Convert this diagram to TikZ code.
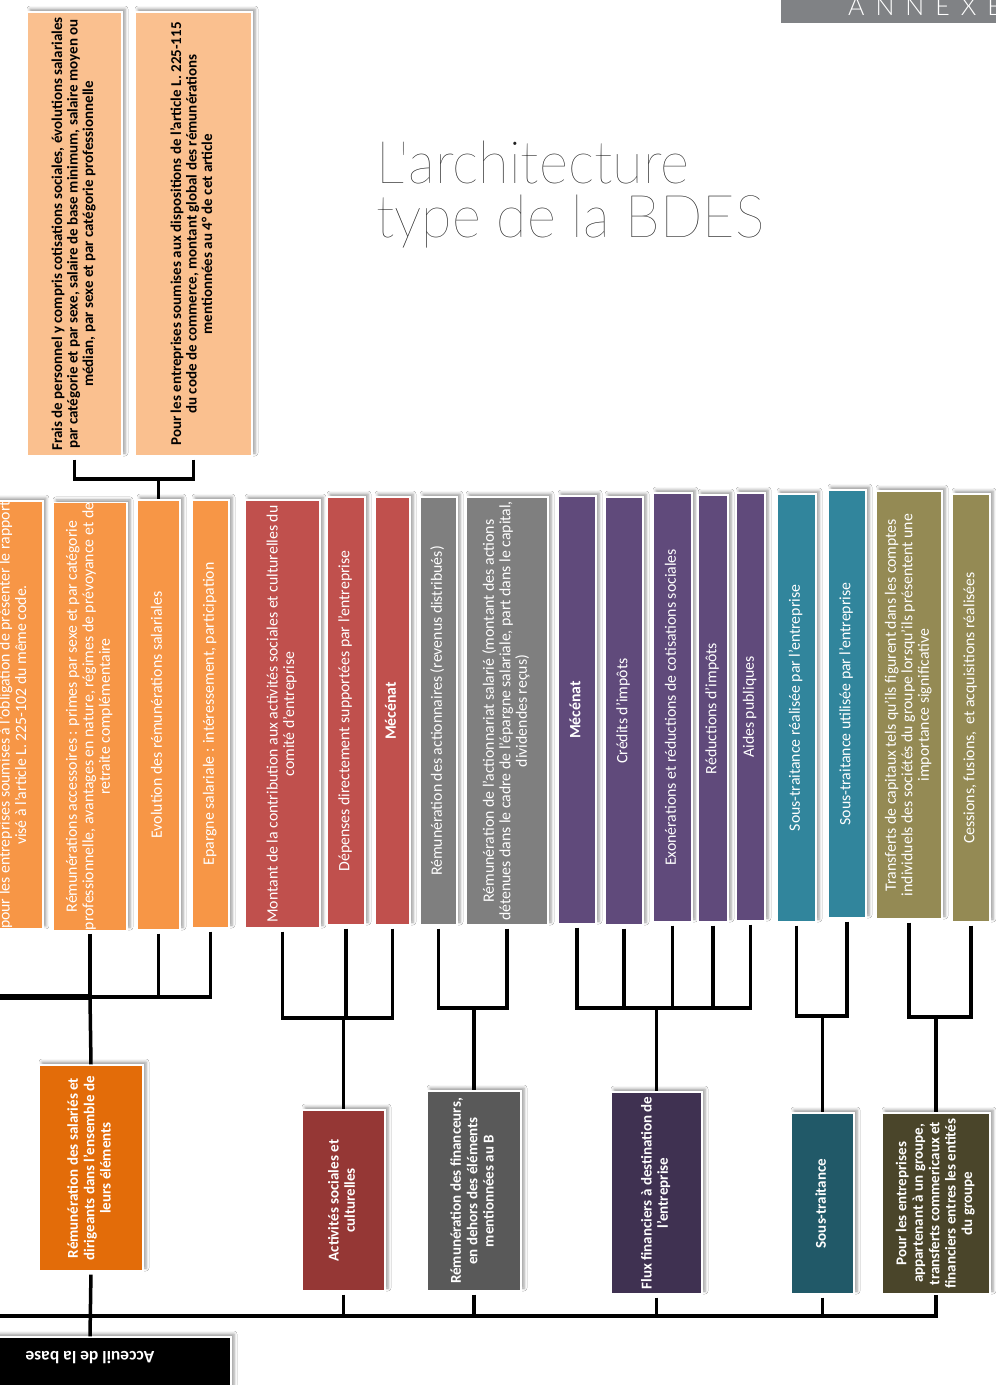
\documentclass[tikz,border=0pt]{standalone}
\usepackage{fontspec}
\setmainfont{Carlito}
\newfontfamily\titlefont{Lato Hairline}
\newfontfamily\bannerfont{Lato Light}
\usetikzlibrary{shadows.blur}
\definecolor{cTop}{HTML}{FAC08F}
\definecolor{cOr}{HTML}{F79646}
\definecolor{cRed}{HTML}{C0504D}
\definecolor{cGry}{HTML}{7F7F7F}
\definecolor{cPur}{HTML}{604A7B}
\definecolor{cTea}{HTML}{31859C}
\definecolor{cOli}{HTML}{948A54}
\definecolor{dOr}{HTML}{E36C09}
\definecolor{dRed}{HTML}{953735}
\definecolor{dGry}{HTML}{595959}
\definecolor{dPur}{HTML}{3F3151}
\definecolor{dTea}{HTML}{215968}
\definecolor{dOli}{HTML}{4A452A}
\definecolor{banner}{HTML}{808285}
\definecolor{titlegrey}{HTML}{202020}
\newcommand\vt[1]{\rotatebox{90}{\begin{tabular}{@{}c@{}}#1\end{tabular}}}
\tikzset{
  box/.style={draw=white, line width=1.2pt, inner sep=0pt, text=white,
    font=\fontsize{15.8}{16.5}\selectfont,
    blur shadow={shadow xshift=3pt, shadow yshift=3pt, shadow blur radius=3pt, shadow opacity=40}},
  topbox/.style={box, fill=cTop, text=black, font=\bfseries\fontsize{15}{15.5}\selectfont},
  lowbox/.style={box, font=\bfseries\fontsize{15}{16.4}\selectfont},
  conn/.style={line width=3.5pt, black},
  gap/.style={conn, shorten <=3pt}
}
\begin{document}
\begin{tikzpicture}[x=1pt,y=-1pt]
\useasboundingbox (0,0) rectangle (996,1385);
\clip (0,0) rectangle (996,1385);
\fill[white] (0,0) rectangle (996,1385);

% banner and title
\fill[banner] (781,-5) rectangle (996,23);
\node[anchor=base west, text=white, inner sep=0pt, font=\bannerfont\fontsize{25}{25}\selectfont] (annexe) at (848,15) {A\hspace{11pt}N\hspace{11pt}N\hspace{11pt}E\hspace{11pt}X\hspace{11pt}E};
\node[anchor=base west, inner sep=0pt, text=titlegrey, font=\titlefont\fontsize{59}{60}\selectfont] (title1) at (376,183) {\scalebox{0.95}[1]{L'architecture}};
\node[anchor=base west, inner sep=0pt, text=titlegrey, font=\titlefont\fontsize{59}{60}\selectfont] (title2) at (376,237) {\scalebox{0.945}[1]{type de la BDES}};

% top boxes
\node[topbox, minimum width=95pt, minimum height=444pt] (t1) at (74.5,234) {\vt{Frais de personnel y compris cotisations sociales, évolutions salariales\\par catégorie et par sexe, salaire de base minimum, salaire moyen ou\\médian, par sexe et par catégorie professionnelle}};
\node[topbox, minimum width=117pt, minimum height=444pt] (t2) at (193.5,234) {\vt{Pour les entreprises soumises aux dispositions de l'article L. 225-115\\du code de commerce, montant global des rémunérations\\mentionnées au 4° de cet article}};

% middle boxes
\node[box, fill=cOr, minimum width=57pt, minimum height=424pt] (m1) at (14.5,715) {\vt{pour les entreprises soumises à l'obligation de présenter le rapport\\visé à l'article L. 225-102 du même code.}};
\node[box, fill=cOr, minimum width=74pt, minimum height=427pt] (m2) at (90,716.5) {\vt{Rémunérations accessoires : primes par sexe et par catégorie\\professionnelle, avantages en nature, régimes de prévoyance et de\\retraite complémentaire}};
\node[box, fill=cOr, minimum width=43pt, minimum height=430pt] (m3) at (158.5,715) {\vt{Evolution des rémunérations salariales}};
\node[box, fill=cOr, minimum width=37pt, minimum height=428pt] (m4) at (210.5,714) {\vt{Epargne salariale : intéressement, participation}};
\node[box, fill=cRed, minimum width=75pt, minimum height=428pt] (m5) at (282.5,714) {\vt{Montant de la contribution aux activités sociales et culturelles du\\comité d'entreprise}};
\node[box, fill=cRed, minimum width=38pt, minimum height=428pt] (m6) at (346,711) {\vt{Dépenses directement supportées par l'entreprise}};
\node[box, fill=cRed, minimum width=35pt, minimum height=428pt] (m7) at (392.5,711) {\vt{\bfseries Mécénat}};
\node[box, fill=cGry, minimum width=37pt, minimum height=428pt] (m8) at (438.5,711) {\vt{Rémunération des actionnaires (revenus distribués)}};
\node[box, fill=cGry, minimum width=82pt, minimum height=428pt] (m9) at (507,711) {\vt{Rémunération de l'actionnariat salarié (montant des actions\\détenues dans le cadre de l'épargne salariale, part dans le capital,\\dividendes reçus)}};
\node[box, fill=cPur, minimum width=38pt, minimum height=428pt] (m10) at (577,710) {\vt{\bfseries Mécénat}};
\node[box, fill=cPur, minimum width=38pt, minimum height=428pt] (m11) at (624,711) {\vt{Crédits d'impôts}};
\node[box, fill=cPur, minimum width=39pt, minimum height=429pt] (m12) at (672.5,707.5) {\vt{Exonérations et réductions de cotisations sociales}};
\node[box, fill=cPur, minimum width=30pt, minimum height=427pt] (m13) at (713,708.5) {\vt{Réductions d'impôts}};
\node[box, fill=cPur, minimum width=29pt, minimum height=428pt] (m14) at (750.5,707) {\vt{Aides publiques}};
\node[box, fill=cTea, minimum width=39pt, minimum height=428pt] (m15) at (796.5,708) {\vt{Sous-traitance réalisée par l'entreprise}};
\node[box, fill=cTea, minimum width=38pt, minimum height=428pt] (m16) at (847,704) {\vt{Sous-traitance utilisée par l'entreprise}};
\node[box, fill=cOli, minimum width=66pt, minimum height=428pt] (m17) at (909,705) {\vt{Transferts de capitaux tels qu'ils figurent dans les comptes\\individuels des sociétés du groupe lorsqu'ils présentent une\\importance significative}};
\node[box, fill=cOli, minimum width=38pt, minimum height=428pt] (m18) at (971,708) {\vt{Cessions, fusions,\ \ et acquisitions réalisées}};

% lower boxes
\node[lowbox, fill=dOr, minimum width=104pt, minimum height=206pt] (r1) at (91,1168) {\vt{Rémunération des salariés et\\dirigeants dans l'ensemble de\\leurs éléments}};
\node[lowbox, fill=dRed, minimum width=83pt, minimum height=181pt] (b1) at (343.5,1200.5) {\vt{Activités sociales et\\culturelles}};
\node[lowbox, fill=dGry, minimum width=94pt, minimum height=200pt] (b2) at (474,1191) {\vt{Rémunération des financeurs,\\en dehors des éléments\\mentionnées au B}};
\node[lowbox, fill=dPur, minimum width=91pt, minimum height=202pt] (b3) at (656.5,1193) {\vt{Flux financiers à destination de\\l'entreprise}};
\node[lowbox, fill=dTea, minimum width=63pt, minimum height=181pt] (b4) at (822.5,1203.5) {\vt{Sous-traitance}};
\node[lowbox, fill=dOli, minimum width=108pt, minimum height=181pt] (b5) at (936,1203.5) {\vt{Pour les entreprises\\appartenant à un groupe,\\transferts commericaux et\\financiers entres les entités\\du groupe}};
\node[box, fill=black, minimum width=282pt, minimum height=96pt] (acc) at (90,1385) {};
\node[text=white, inner sep=0pt, font=\bfseries\fontsize{17.5}{19}\selectfont] (acctxt) at (90,1358) {\rotatebox{180}{Acceuil de la base}};

% junction coordinates
\coordinate (jT) at (158.5,479);
\coordinate (jO) at (90,997);
\coordinate (jOl) at (0,997);
\coordinate (jR) at (343.5,1018);
\coordinate (jG) at (474,1008);
\coordinate (jP) at (656.5,1008);
\coordinate (jC) at (822.5,1016);
\coordinate (jL) at (936,1017);
\coordinate (jM) at (91,1316);
\coordinate (jMl) at (0,1316);

% top connectors
\draw[gap] (t1.south) |- (jT);
\draw[gap] (t2.south) |- (jT);
\draw[conn] (jT) -- (m3.north);

% orange group
\draw[gap] (m2.south) -- (jO);
\draw[gap] (m3.south) |- (jO);
\draw[gap] (m4.south) |- (jO);
\draw[conn, line width=5.5pt] (jOl) -- (jO);
\draw[conn] (jO) -- (r1.north);
\draw[gap] (r1.south) -- (acc.north);

% red group
\draw[gap] (m5.south) |- (jR);
\draw[gap] (m7.south) |- (jR);
\draw[gap] (m6.south) -- (m6.south |- jR);
\draw[conn] (jR) -- (b1.north);

% grey group
\draw[gap] (m8.south) |- (jG);
\draw[gap] (m9.south) |- (jG);
\draw[conn] (jG) -- (b2.north);

% purple group
\draw[gap] (m10.south) |- (jP);
\draw[gap] (m14.south) |- (jP);
\draw[gap] (m11.south) -- (m11.south |- jP);
\draw[gap] (m12.south) -- (m12.south |- jP);
\draw[gap] (m13.south) -- (m13.south |- jP);
\draw[conn] (jP) -- (b3.north);

% teal group
\draw[gap] (m15.south) |- (jC);
\draw[gap] (m16.south) |- (jC);
\draw[conn] (jC) -- (b4.north);

% olive group
\draw[gap] (m17.south) |- (jL);
\draw[gap] (m18.south) |- (jL);
\draw[conn] (jL) -- (b5.north);

% main bottom line
\draw[conn] (jMl) -| (b5.south);
\draw[gap] (b1.south) -- (b1.south |- jM);
\draw[gap] (b2.south) -- (b2.south |- jM);
\draw[gap] (b3.south) -- (b3.south |- jM);
\draw[gap] (b4.south) -- (b4.south |- jM);
\end{tikzpicture}
\end{document}
